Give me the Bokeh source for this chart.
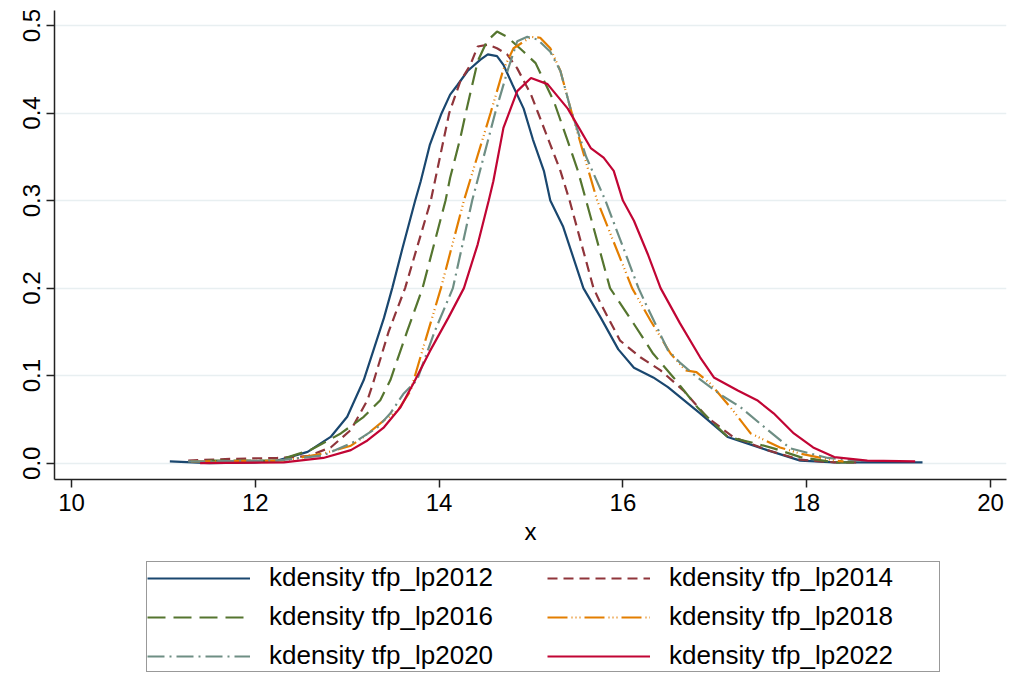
from bokeh.plotting import figure
from bokeh.models import Range1d, FixedTicker, PrintfTickFormatter, Legend, LegendItem
from bokeh.layouts import column
from bokeh.embed import file_html
from bokeh.resources import INLINE

# ---- data (x, density) ----
labels = ["kdensity tfp_lp2012", "kdensity tfp_lp2014", "kdensity tfp_lp2016",
          "kdensity tfp_lp2018", "kdensity tfp_lp2020", "kdensity tfp_lp2022"]

x2012 = [11.07, 11.5, 12.0, 12.24, 12.57, 12.82, 13.0, 13.18, 13.4, 13.49, 13.6, 13.74, 13.8, 13.9,
         14.02, 14.12, 14.2, 14.31, 14.45, 14.53, 14.63, 14.7, 14.8, 14.92, 15.02, 15.14, 15.21,
         15.35, 15.57, 15.76, 15.95, 16.12, 16.33, 16.49, 16.84, 17.14, 17.57, 17.93, 18.3, 19.26]
y2012 = [0.002, 0.000, 0.001, 0.003, 0.013, 0.030, 0.053, 0.095, 0.166, 0.200, 0.245, 0.300, 0.322, 0.364,
         0.398, 0.421, 0.432, 0.448, 0.461, 0.467, 0.465, 0.455, 0.432, 0.405, 0.370, 0.334, 0.300,
         0.270, 0.200, 0.166, 0.130, 0.109, 0.098, 0.087, 0.057, 0.030, 0.015, 0.003, 0.001, 0.001]

x2014 = [11.27, 11.76, 12.24, 12.57, 12.82, 13.04, 13.22, 13.28, 13.45, 13.63, 13.91, 14.11, 14.23,
         14.34, 14.42, 14.53, 14.63, 14.74, 14.85, 15.0, 15.07, 15.21, 15.32, 15.42, 15.68, 15.76,
         15.97, 16.19, 16.41, 16.66, 16.92, 17.2, 17.57, 17.93, 18.3, 18.6]
y2014 = [0.003, 0.005, 0.006, 0.008, 0.018, 0.038, 0.072, 0.091, 0.150, 0.200, 0.300, 0.400, 0.436,
         0.455, 0.476, 0.478, 0.474, 0.467, 0.451, 0.421, 0.402, 0.364, 0.334, 0.300, 0.200, 0.182,
         0.140, 0.121, 0.106, 0.083, 0.052, 0.030, 0.015, 0.004, 0.001, 0.001]

x2016 = [11.48, 12.24, 12.6, 12.93, 13.18, 13.36, 13.47, 13.65, 13.82, 14.07, 14.12, 14.23, 14.29,
         14.42, 14.52, 14.63, 14.74, 14.92, 15.05, 15.25, 15.4, 15.51, 15.6, 15.86, 16.12, 16.33,
         16.55, 16.81, 17.14, 17.39, 17.64, 17.93, 18.3, 18.6]
y2016 = [0.003, 0.003, 0.015, 0.034, 0.053, 0.072, 0.095, 0.150, 0.200, 0.300, 0.326, 0.371, 0.400,
         0.459, 0.482, 0.493, 0.487, 0.470, 0.457, 0.413, 0.368, 0.334, 0.300, 0.200, 0.159, 0.125,
         0.098, 0.064, 0.030, 0.024, 0.017, 0.007, 0.001, 0.001]

x2018 = [11.3, 12.31, 12.74, 13.04, 13.18, 13.4, 13.55, 13.69, 13.85, 14.02, 14.27, 14.56, 14.7,
         14.81, 15.0, 15.1, 15.21, 15.32, 15.43, 15.72, 16.1, 16.3, 16.52, 16.68, 16.8, 16.95,
         17.2, 17.39, 17.71, 17.93, 18.3, 18.4]
y2018 = [0.002, 0.003, 0.011, 0.020, 0.030, 0.049, 0.060, 0.083, 0.140, 0.200, 0.300, 0.400, 0.450,
         0.474, 0.487, 0.486, 0.474, 0.448, 0.405, 0.300, 0.200, 0.163, 0.125, 0.106, 0.104, 0.091,
         0.060, 0.034, 0.018, 0.011, 0.003, 0.002]

x2020 = [11.27, 12.24, 12.74, 13.11, 13.33, 13.47, 13.61, 13.76, 13.95, 14.15, 14.36, 14.61, 14.75,
         14.85, 14.96, 15.07, 15.21, 15.32, 15.43, 15.6, 15.81, 16.17, 16.24, 16.49, 16.63, 16.81,
         17.08, 17.28, 17.53, 17.82, 18.23, 18.59]
y2020 = [0.002, 0.003, 0.009, 0.026, 0.041, 0.057, 0.079, 0.095, 0.150, 0.200, 0.300, 0.400, 0.450,
         0.482, 0.487, 0.484, 0.470, 0.448, 0.405, 0.350, 0.300, 0.200, 0.184, 0.129, 0.114, 0.098,
         0.077, 0.064, 0.042, 0.017, 0.006, 0.003]

x2022 = [11.4, 12.31, 12.74, 13.04, 13.22, 13.4, 13.58, 13.72, 13.9, 14.1, 14.27, 14.42, 14.54,
         14.59, 14.7, 14.85, 15.0, 15.18, 15.4, 15.65, 15.79, 15.9, 16.0, 16.12, 16.27, 16.41,
         16.62, 16.84, 16.99, 17.25, 17.46, 17.64, 17.86, 18.07, 18.3, 18.66, 19.18]
y2022 = [0.000, 0.001, 0.006, 0.015, 0.026, 0.041, 0.064, 0.091, 0.128, 0.166, 0.200, 0.250, 0.300,
         0.322, 0.383, 0.425, 0.440, 0.433, 0.405, 0.360, 0.349, 0.334, 0.300, 0.277, 0.239, 0.200,
         0.160, 0.121, 0.098, 0.083, 0.072, 0.057, 0.034, 0.018, 0.007, 0.003, 0.002]

x_ticks = [10, 12, 14, 16, 18, 20]
y_ticks = [0.0, 0.1, 0.2, 0.3, 0.4, 0.5]

series_x = [x2012, x2014, x2016, x2018, x2020, x2022]
series_y = [y2012, y2014, y2016, y2018, y2020, y2022]
colors = ["#1a476f", "#90353b", "#55752f", "#e37e00", "#6e8e84", "#c10534"]
dashes = ["solid", "10 6", "18 8", "20 4 1 3 1 3 1 4", "17 5 2 5", "solid"]

FONT = "Liberation Sans"
MAIN_H = 550
LEG_H = 680 - MAIN_H

p = figure(width=1011, height=MAIN_H, output_backend="svg", toolbar_location=None,
           x_range=Range1d(9.815, 20.174), y_range=Range1d(-0.0186, 0.5171),
           min_border_left=54, min_border_right=5, min_border_top=10,
           min_border_bottom=MAIN_H - 479)
p.outline_line_color = None
p.background_fill_color = "white"
p.border_fill_color = "white"

for xs, ys, c, d in zip(series_x, series_y, colors, dashes):
    p.line(xs, ys, line_color=c, line_width=2.2, line_dash=d)

p.xgrid.visible = False
p.ygrid.grid_line_color = "#e8eff1"
p.ygrid.grid_line_width = 1.5
p.ygrid.ticker = FixedTicker(ticks=y_ticks)

p.xaxis.ticker = FixedTicker(ticks=x_ticks)
p.yaxis.ticker = FixedTicker(ticks=y_ticks)
p.yaxis.formatter = PrintfTickFormatter(format="%.1f")
p.yaxis.major_label_orientation = "vertical"
for ax in (p.xaxis, p.yaxis):
    ax.axis_line_color = "#222222"
    ax.axis_line_width = 1.5
    ax.major_tick_line_color = "#222222"
    ax.major_tick_line_width = 1.5
    ax.major_tick_out = 8
    ax.major_tick_in = 0
    ax.minor_tick_line_color = None
    ax.major_label_text_font = FONT
    ax.major_label_text_font_size = "24px"
    ax.major_label_text_color = "black"
    ax.major_label_standoff = 6
p.xaxis.axis_label = "x"
p.xaxis.axis_label_text_font = FONT
p.xaxis.axis_label_text_font_size = "24px"
p.xaxis.axis_label_text_font_style = "normal"
p.xaxis.axis_label_text_color = "black"
p.xaxis.axis_label_standoff = 4

# ---- legend panel (separate figure below the plot; its frame aligns with the plot's frame) ----
q = figure(width=1011, height=LEG_H, output_backend="svg", toolbar_location=None,
           x_range=Range1d(0, 1), y_range=Range1d(0, 1),
           x_axis_location=None, y_axis_location=None,
           min_border_left=0, min_border_right=0, min_border_top=0, min_border_bottom=0)
q.grid.visible = False
q.outline_line_color = None
q.background_fill_color = "white"
q.border_fill_color = "white"

items = []
for lab, xs, ys, c, d in zip(labels, series_x, series_y, colors, dashes):
    r = q.line(xs, ys, line_color=c, line_width=2.2, line_dash=d, visible=False)
    items.append(LegendItem(label=lab, renderers=[r]))

legend = Legend(items=items, ncols=2, orientation="horizontal", location=(92, 8),
                label_text_font=FONT, label_text_font_size="26px", label_text_color="black",
                glyph_width=103, glyph_height=20, label_standoff=19, label_width=270,
                spacing=8, padding=0, margin=0,
                border_line_color="#333333", border_line_width=1.5,
                background_fill_color="white", background_fill_alpha=1)
q.add_layout(legend, "center")

layout = column(p, q, spacing=0)
open("out.html", "w").write(file_html(layout, INLINE))
